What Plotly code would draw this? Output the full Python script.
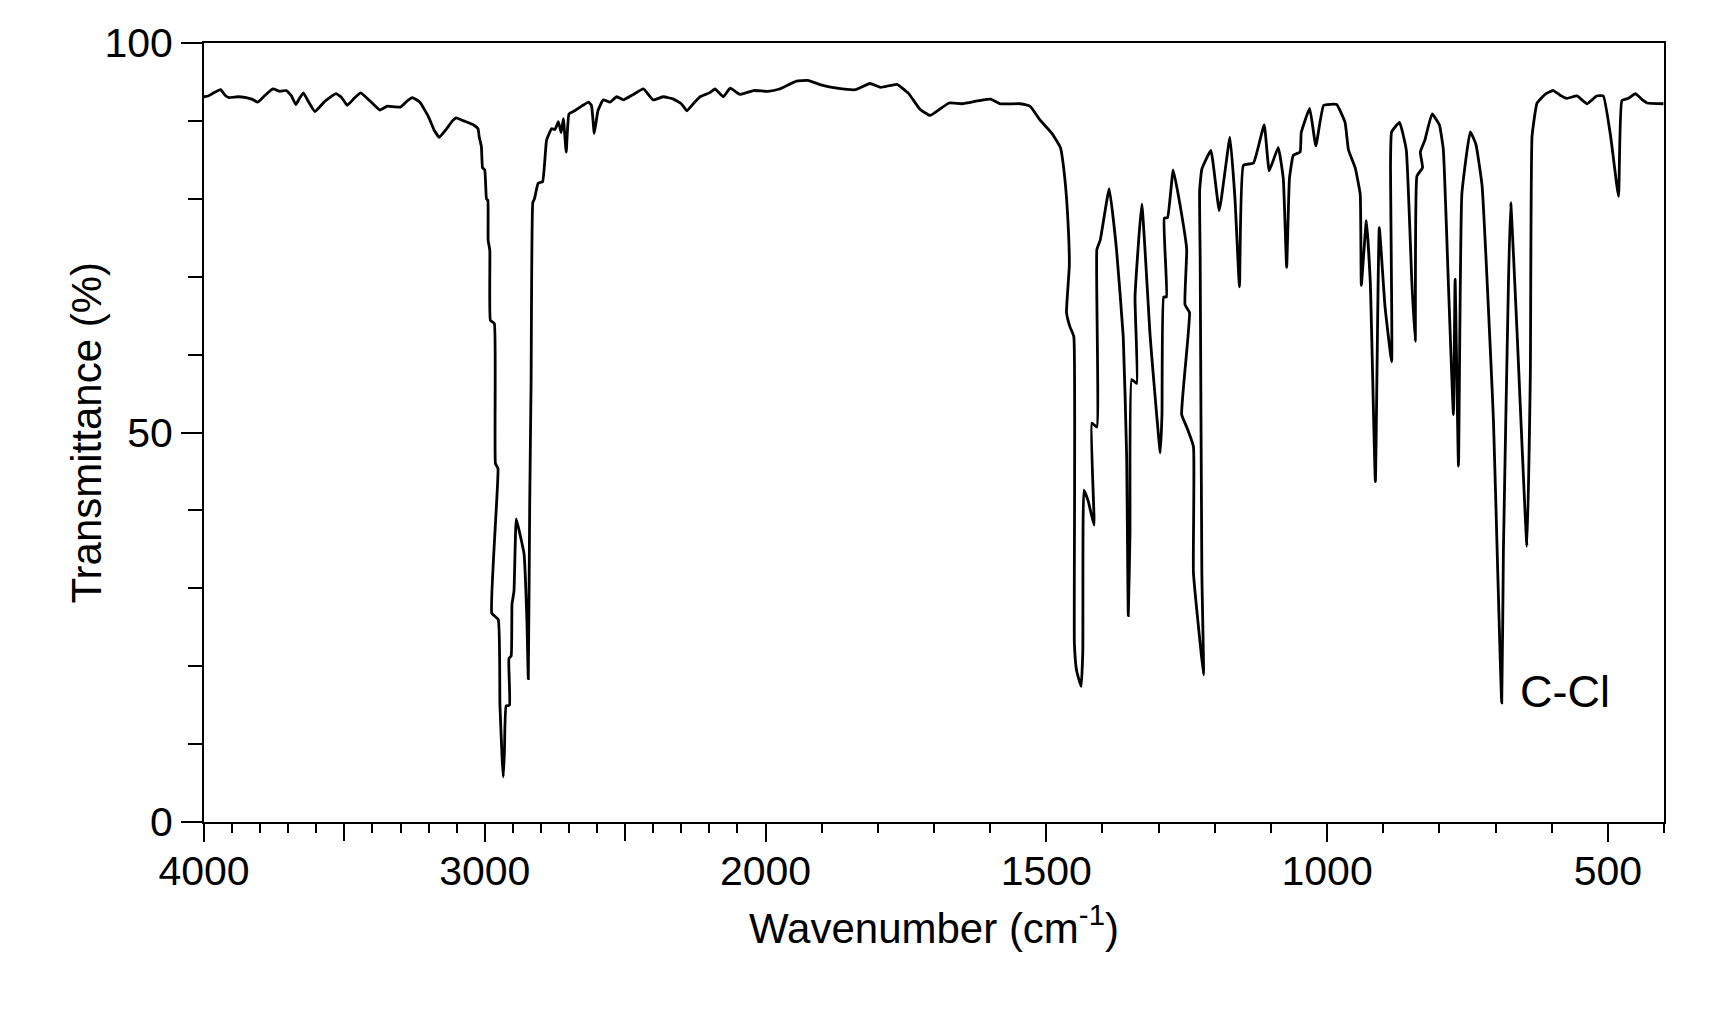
import plotly.graph_objects as go

# ---- data ----
wavenumber = [
    4000, 3985, 3965, 3941, 3925, 3911, 3880, 3850, 3830, 3809, 3785, 3755, 3730, 3707,
    3690, 3673, 3660, 3646, 3630, 3605, 3570, 3530, 3510, 3490, 3465, 3442, 3410, 3374,
    3347, 3320, 3299, 3275, 3258, 3231, 3200, 3180, 3162, 3140, 3115, 3102, 3075, 3041,
    3024, 3020, 3012, 3008, 3000, 2994, 2989, 2988, 2982, 2980, 2966, 2962, 2953, 2975,
    2952, 2946, 2938, 2934, 2930, 2924, 2912, 2914, 2906, 2903, 2896, 2888, 2875, 2860,
    2850, 2845, 2840, 2835, 2829, 2823, 2810, 2794, 2780, 2762, 2750, 2738, 2728, 2720,
    2710, 2700, 2680, 2655, 2630, 2620, 2610, 2597, 2578, 2554, 2530, 2506, 2471, 2435,
    2400, 2364, 2328, 2300, 2280, 2255, 2233, 2200, 2180, 2150, 2126, 2091, 2043, 1996,
    1975, 1945, 1925, 1900, 1873, 1840, 1814, 1795, 1766, 1745, 1725, 1707, 1690, 1673,
    1650, 1620, 1599, 1582, 1547, 1529, 1511, 1490, 1475, 1467, 1461, 1459, 1464, 1458,
    1451, 1450, 1446, 1438, 1435, 1433, 1425, 1415, 1419, 1410, 1410, 1404, 1388, 1375,
    1363, 1357, 1354, 1351, 1348, 1339, 1342, 1330, 1315, 1297, 1294, 1291, 1286, 1290,
    1284, 1274, 1259, 1250, 1253, 1245, 1259, 1250, 1238, 1238, 1226, 1220, 1223, 1226,
    1227, 1223, 1207, 1192, 1173, 1164, 1156, 1149, 1131, 1112, 1103, 1087, 1078, 1072,
    1067, 1060, 1048, 1046, 1031, 1020, 1006, 983, 968, 962, 950, 941, 939, 930,
    923, 914, 907, 897, 885, 887, 885, 871, 859, 849, 843, 840, 830, 834,
    826, 813, 800, 793, 784, 775, 772, 766, 760, 745, 735, 724, 704, 689,
    686, 677, 673, 662, 644, 638, 635, 626, 610, 597, 585, 573, 555, 537,
    520, 508, 495, 481, 475, 463, 451, 440, 430, 401,
]
transmittance = [
    93.1, 93.2, 93.6, 94.0, 93.3, 93.0, 93.1, 93.0, 92.8, 92.4, 93.2, 94.1, 93.8, 93.9,
    93.3, 92.1, 92.9, 93.6, 92.6, 91.2, 92.5, 93.5, 93.0, 92.0, 92.9, 93.6, 92.6, 91.4,
    91.9, 91.8, 91.8, 92.6, 93.0, 92.4, 90.5, 88.8, 87.9, 88.8, 90.0, 90.4, 90.0, 89.5,
    89.0, 88.0, 86.7, 84.0, 83.7, 80.0, 79.8, 74.7, 73.4, 64.4, 64.0, 46.0, 45.4, 26.8,
    26.0, 15.0, 8.0, 5.8, 9.0, 14.9, 15.0, 21.0, 21.3, 28.0, 29.6, 38.9, 37.0, 34.4,
    26.0, 18.4, 40.6, 56.6, 79.5, 80.0, 82.0, 82.2, 87.5, 89.0, 88.9, 89.9, 88.5, 90.3,
    86.0, 90.9, 91.3, 91.9, 92.4, 92.0, 88.4, 91.3, 92.7, 92.4, 93.1, 92.7, 93.4, 94.1,
    92.7, 93.1, 92.8, 92.2, 91.3, 92.3, 93.1, 93.6, 94.1, 93.1, 94.2, 93.4, 93.9, 93.8,
    94.1, 95.1, 95.2, 94.6, 94.2, 94.0, 94.8, 94.3, 94.7, 93.5, 91.5, 90.7, 91.5, 92.3,
    92.2, 92.6, 92.8, 92.2, 92.2, 91.9, 90.1, 88.4, 86.6, 82.6, 76.5, 71.4, 65.4, 63.6,
    62.3, 22.9, 19.4, 17.4, 21.9, 42.6, 41.1, 38.1, 51.2, 50.7, 73.5, 74.7, 81.3, 73.5,
    62.3, 47.2, 26.5, 37.1, 56.8, 56.3, 67.4, 79.3, 62.3, 47.4, 52.3, 67.4, 67.4, 77.5,
    77.6, 83.7, 78.0, 73.5, 66.4, 65.4, 52.3, 50.7, 48.2, 32.0, 22.9, 18.9, 32.0, 72.5,
    81.0, 83.8, 86.2, 78.5, 87.9, 80.0, 68.7, 84.3, 84.6, 89.5, 83.6, 86.6, 82.6, 71.2,
    82.6, 85.6, 86.0, 88.5, 91.6, 86.8, 92.0, 92.1, 89.8, 86.3, 84.0, 80.6, 68.9, 77.2,
    69.2, 43.7, 76.3, 66.3, 59.1, 84.6, 88.6, 89.8, 86.3, 69.2, 61.7, 82.9, 84.0, 86.0,
    87.5, 90.9, 89.5, 86.3, 69.2, 52.3, 69.7, 45.7, 80.6, 88.6, 87.0, 81.7, 52.0, 15.3,
    34.8, 69.2, 79.5, 63.4, 35.4, 57.7, 88.0, 92.3, 93.5, 93.9, 93.3, 92.9, 93.2, 92.2,
    93.2, 93.2, 88.0, 80.3, 92.6, 92.9, 93.5, 92.8, 92.3, 92.2,
]

x_labelled_ticks = [4000, 3000, 2000, 1500, 1000, 500]
x_labelled_text = ["4000", "3000", "2000", "1500", "1000", "500"]
x_unlabelled_long_ticks = [3500, 2500]
x_minor_ticks = [3900, 3800, 3700, 3600, 3400, 3300, 3200, 3100, 2900, 2800, 2700, 2600,
                 2400, 2300, 2200, 2100, 1900, 1800, 1700, 1600, 1400, 1300, 1200, 1100,
                 900, 800, 700, 600, 400]
y_major_ticks = [0, 50, 100]
y_minor_ticks = [10, 20, 30, 40, 60, 70, 80, 90]
x_limits = [4000, 400]
y_limits = [0, 100]
annotation_text = "C-Cl"
annotation_pos = (660, 16.8)
x_title = "Wavenumber (cm<sup>-1</sup>)"
y_title = "Transmittance (%)"


def warp(w):
    """IR chart scale: above 2000 cm-1 the axis is compressed by a factor 2."""
    return w if w <= 2000 else 2000 + (w - 2000) / 2


FONT = "Liberation Sans, Arial, Helvetica, sans-serif"
x_range = [warp(x_limits[0]), warp(x_limits[1])]

fig = go.Figure()
fig.add_trace(go.Scatter(
    x=[warp(w) for w in wavenumber],
    y=transmittance,
    mode="lines",
    line=dict(color="black", width=2.8, shape="spline", smoothing=0.35),
    showlegend=False,
    hoverinfo="skip",
))
# carrier trace for the overlay axis that holds the long unlabelled ticks
fig.add_trace(go.Scatter(
    x=[warp(t) for t in x_unlabelled_long_ticks], y=[None, None],
    xaxis="x2", yaxis="y", mode="lines", showlegend=False, hoverinfo="skip",
))

fig.add_annotation(
    x=warp(annotation_pos[0]), y=annotation_pos[1],
    text=annotation_text, showarrow=False,
    xanchor="left", yanchor="middle",
    font=dict(family=FONT, size=45, color="black"),
)
# y-axis title
fig.add_annotation(
    xref="paper", yref="paper", x=0, y=0.5, xshift=-118,
    text=y_title, textangle=-90, showarrow=False,
    xanchor="center", yanchor="middle",
    font=dict(family=FONT, size=42, color="black"),
)

fig.update_layout(
    width=1726, height=1012,
    margin=dict(l=204, r=62, t=43, b=190),
    paper_bgcolor="white", plot_bgcolor="white",
    font=dict(family=FONT, color="black"),
    xaxis=dict(
        range=x_range,
        tickmode="array",
        tickvals=[warp(t) for t in x_labelled_ticks],
        ticktext=x_labelled_text,
        ticks="outside", ticklen=18, tickwidth=2, tickcolor="black",
        tickfont=dict(size=41, family=FONT),
        ticklabelstandoff=-6,
        minor=dict(tickmode="array", tickvals=[warp(t) for t in x_minor_ticks],
                   ticks="outside", ticklen=9, tickwidth=2, tickcolor="black", showgrid=False),
        showline=True, linewidth=2, linecolor="black", mirror=True,
        showgrid=False, zeroline=False,
        title=dict(text=x_title, font=dict(size=42, family=FONT), standoff=20),
    ),
    xaxis2=dict(
        overlaying="x", matches="x", anchor="y", side="bottom",
        range=x_range,
        tickmode="array",
        tickvals=[warp(t) for t in x_unlabelled_long_ticks],
        ticks="outside", ticklen=18, tickwidth=2, tickcolor="black",
        showticklabels=False, showline=False, showgrid=False, zeroline=False,
    ),
    yaxis=dict(
        range=y_limits,
        tickmode="array",
        tickvals=y_major_ticks,
        ticktext=[str(v) for v in y_major_ticks],
        ticks="outside", ticklen=21, tickwidth=2, tickcolor="black",
        tickfont=dict(size=41, family=FONT),
        minor=dict(tickmode="array", tickvals=y_minor_ticks,
                   ticks="outside", ticklen=14, tickwidth=2, tickcolor="black", showgrid=False),
        showline=True, linewidth=2, linecolor="black", mirror=True,
        showgrid=False, zeroline=False,
    ),
)

fig.write_html("out.html")
